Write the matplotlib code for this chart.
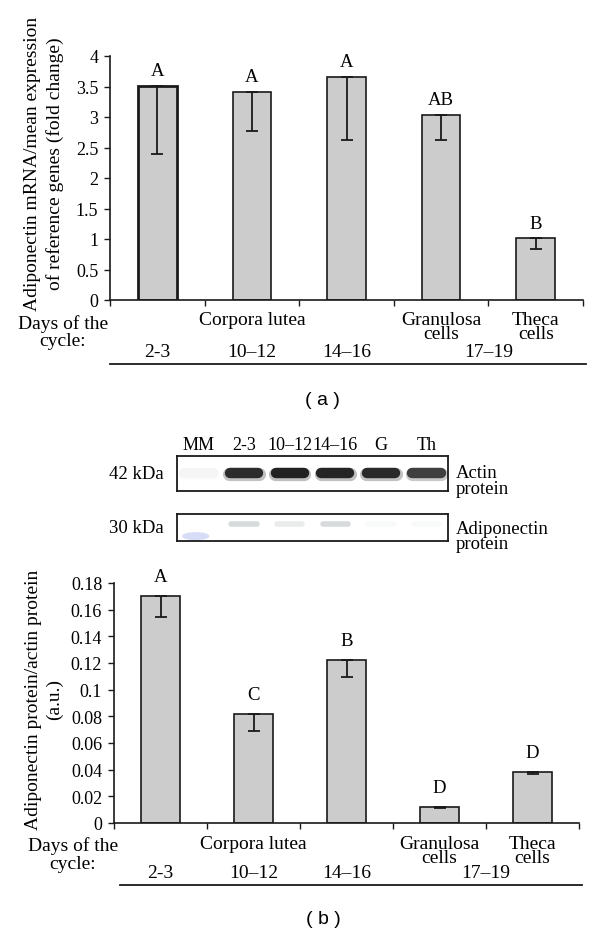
import matplotlib.pyplot as plt
from matplotlib.patches import Ellipse
from matplotlib.transforms import blended_transform_factory

# Panel (a): adiponectin mRNA
mrna_mean = [3.51, 3.41, 3.66, 3.03, 1.01]
mrna_low = [2.40, 2.77, 2.62, 2.63, 0.84]
mrna_letters = ['A', 'A', 'A', 'AB', 'B']

# Panel (b): adiponectin protein / actin protein
prot_mean = [0.170, 0.082, 0.122, 0.012, 0.038]
prot_low = [0.1545, 0.069, 0.1095, 0.011, 0.0365]
prot_letters = ['A', 'C', 'B', 'D', 'D']

tissue_labels = ['Corpora lutea', 'Granulosa\ncells', 'Theca\ncells']
tissue_pos = [1, 3, 4]
day_labels = ['2-3', '10\u201312', '14\u201316', '17\u201319']
day_pos = [0, 1, 2, 3.5]

# Western blot lanes
lane_labels = ['MM', '2-3', '10\u201312', '14\u201316', 'G', 'Th']
actin_band = [0.03, 0.9, 0.97, 0.95, 0.92, 0.8]
adipo_band = [0.0, 0.3, 0.16, 0.3, 0.05, 0.05]

W, H = 600, 937
plt.rcParams['font.family'] = ['Liberation Serif', 'DejaVu Serif']
plt.rcParams['font.size'] = 13


def px_axes(fig, x0, x1, ytop, ybot):
    return fig.add_axes([x0 / W, 1 - ybot / H, (x1 - x0) / W, (ybot - ytop) / H])


def bar_panel(ax, means, lows, letters, ymax, ystep, fmt, letter_off, rows, thick_first):
    x = range(len(means))
    bars = ax.bar(x, means, width=0.41, color='#cccccc', edgecolor='#1a1a1a', linewidth=1.2, zorder=2)
    if thick_first:
        bars[0].set_linewidth(2.0)
    minus = [m - l for m, l in zip(means, lows)]
    ax.errorbar(x, means, yerr=[minus, [0] * len(minus)], fmt='none', ecolor='#1a1a1a',
                elinewidth=1.3, capsize=4, capthick=1.3, zorder=3)
    for i, (m, lab) in enumerate(zip(means, letters)):
        ax.text(i, m + letter_off, lab, ha='center', va='center', fontsize=13.5)
    ax.set_xlim(-0.5, len(means) - 0.5)
    ax.set_ylim(0, ymax)
    ticks = [i * ystep for i in range(int(round(ymax / ystep)) + 1)]
    ax.set_yticks(ticks)
    ax.set_yticklabels([fmt(t) for t in ticks], fontsize=13)
    ax.set_xticks([i - 0.5 for i in range(len(means) + 1)])
    ax.set_xticklabels([])
    ax.tick_params(axis='y', direction='out', length=4.5, width=1, color='#1a1a1a', pad=4)
    ax.tick_params(axis='x', direction='out', length=4, width=1, color='#1a1a1a')
    for s in ['top', 'right']:
        ax.spines[s].set_visible(False)
    for s in ['left', 'bottom']:
        ax.spines[s].set_linewidth(1.2)
        ax.spines[s].set_color('#1a1a1a')
    tr = blended_transform_factory(ax.transData, ax.transAxes)
    y_days, y_tis, y_num, y_line, x_days, x_line0 = rows
    ax.text(x_days, y_days, 'Days of the\ncycle:', transform=tr, ha='right', va='center',
            multialignment='center', fontsize=14, linespacing=1.05)
    for lab, p in zip(tissue_labels, tissue_pos):
        ax.text(p, y_tis, lab, transform=tr, ha='center', va='top', fontsize=14, linespacing=0.8)
    for lab, p in zip(day_labels, day_pos):
        ax.text(p, y_num, lab, transform=tr, ha='center', va='center', fontsize=14)
    ax.plot([x_line0, 4.53], [y_line, y_line], transform=tr, color='#1a1a1a', lw=1.3, clip_on=False)


def fmt_a(t):
    return '%g' % t


def fmt_b(t):
    if t == 0:
        return '0'
    if abs(t - 0.1) < 1e-9:
        return '0.1'
    return '%.2f' % t


fig = plt.figure(figsize=(W / 100, H / 100), dpi=100)

# Panel (a)
ax_a = px_axes(fig, 110, 583, 57, 301)
bar_panel(ax_a, mrna_mean, mrna_low, mrna_letters, 4, 0.5, fmt_a, 0.25,
          (-0.13, -0.045, -0.213, -0.262, -0.52, -0.5), True)
fig.text(44 / W, 1 - 164 / H, 'Adiponectin mRNA/mean expression\nof reference genes (fold change)',
         rotation=90, ha='center', va='center', fontsize=14, linespacing=1.3)
fig.text(322 / W, 1 - 401 / H, '( a )', ha='center', va='center', fontsize=14, family='Liberation Sans')

# Western blots
blot1 = px_axes(fig, 177, 448, 457, 492)
blot2 = px_axes(fig, 177, 448, 515, 542)
for bax in (blot1, blot2):
    bax.set_xlim(-0.47, 5.47)
    bax.set_ylim(0, 1)
    bax.set_xticks([])
    bax.set_yticks([])
    for s in bax.spines.values():
        s.set_linewidth(1.3)
        s.set_color('#1a1a1a')
for i, v in enumerate(actin_band):
    blot1.plot([i - 0.32, i + 0.32], [0.5, 0.5], color='#202020', lw=9.5, alpha=v * 0.3,
               solid_capstyle='round')
    blot1.plot([i - 0.31, i + 0.31], [0.52, 0.52], color='#1c1c1c', lw=7.5, alpha=v,
               solid_capstyle='round')
for i, v in enumerate(adipo_band):
    blot2.plot([i - 0.28, i + 0.28], [0.62, 0.62], color='#7d8a8a', lw=4, alpha=v,
               solid_capstyle='round')
blot2.add_patch(Ellipse((-0.06, 0.18), 0.6, 0.3, facecolor='#8f9fe6', alpha=0.35, edgecolor='none'))
for i, lab in enumerate(lane_labels):
    blot1.text(i, 1.08, lab, ha='center', va='bottom', fontsize=13)
blot1.text(-0.75, 0.5, '42 kDa', ha='right', va='center', fontsize=13.5)
blot2.text(-0.75, 0.5, '30 kDa', ha='right', va='center', fontsize=13.5)
blot1.text(5.65, 0.3, 'Actin\nprotein', ha='left', va='center', fontsize=13.5, linespacing=0.85)
blot2.text(5.65, 0.2, 'Adiponectin\nprotein', ha='left', va='center', fontsize=13.5, linespacing=0.85)

# Panel (b)
ax_b = px_axes(fig, 114, 579, 584, 824)
bar_panel(ax_b, prot_mean, prot_low, prot_letters, 0.18, 0.02, fmt_b, 0.0145,
          (-0.13, -0.05, -0.208, -0.258, -0.46, -0.435), False)
fig.text(44 / W, 1 - 700 / H, 'Adiponectin protein/actin protein\n(a.u.)',
         rotation=90, ha='center', va='center', fontsize=14, linespacing=1.3)
fig.text(323 / W, 1 - 920 / H, '( b )', ha='center', va='center', fontsize=14, family='Liberation Sans')

fig.savefig('out.png', dpi=100)
